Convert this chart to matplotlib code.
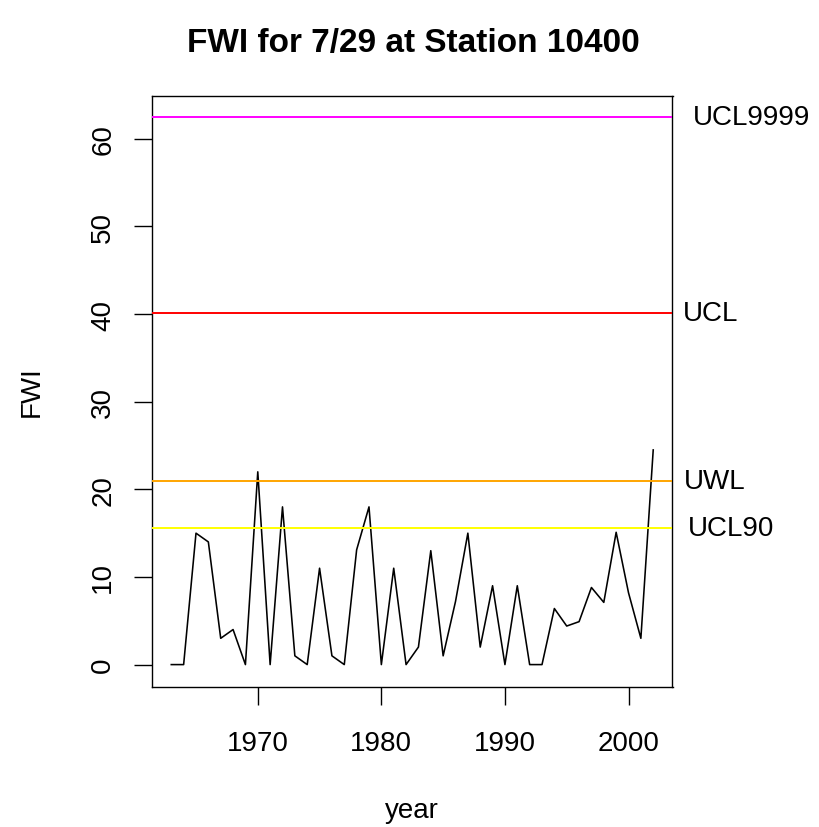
import matplotlib
matplotlib.use("Agg")
import matplotlib.pyplot as plt

plt.rcParams['font.family'] = ['Liberation Sans', 'DejaVu Sans']

years = list(range(1963, 2003))
fwi = [0, 0, 15.0, 14.0, 3.0, 4.0, 0, 22.0, 0, 18.0,
       1.0, 0, 11.0, 1.0, 0, 13.1, 18.0, 0, 11.0, 0,
       2.0, 13.0, 1.0, 7.2, 15.0, 2.0, 9.0, 0, 9.0, 0,
       0, 6.4, 4.4, 4.9, 8.8, 7.1, 15.1, 8.2, 3.0, 24.5]

limit_names = ["UCL9999", "UCL", "UWL", "UCL90"]
limit_values = [62.44, 40.1, 20.9, 15.6]
limit_colors = ["#FF00FF", "#FF0000", "#FFA500", "#FFFF00"]
limit_label_x = [693, 683, 684, 688]  # px

xticks = [1970, 1980, 1990, 2000]
yticks = [0, 10, 20, 30, 40, 50, 60]

W, H = 820, 828
fig = plt.figure(figsize=(W / 100, H / 100), dpi=100)
left, right, top, bottom = 152, 672.5, 96.5, 687.5
ax = fig.add_axes([left / W, 1 - bottom / H, (right - left) / W, (bottom - top) / H])

ax.plot(years, fwi, color="black", lw=1.15, zorder=2)
for v, c in zip(limit_values, limit_colors):
    ax.axhline(v, color=c, lw=1.4, zorder=3)

ax.set_xlim(1961.44, 2003.56)
ax.set_ylim(-2.5, 64.95)
ax.set_xticks(xticks)
ax.set_yticks(yticks)
ax.set_xticklabels([str(t) for t in xticks], fontsize=20)
ax.set_yticklabels([str(t) for t in yticks], fontsize=20, rotation=90, va='center')
ax.tick_params(axis='x', length=12.7, width=1.0, pad=18.5)
ax.tick_params(axis='y', length=12.7, width=1.0, pad=13)
for s in ax.spines.values():
    s.set_linewidth(1.0)

for name, v, lx in zip(limit_names, limit_values, limit_label_x):
    ax.annotate(name, xy=(lx / W, v), xycoords=('figure fraction', 'data'),
                ha='left', va='center', fontsize=20, annotation_clip=False)

fig.text(412 / W, 1 - 818 / H, "year", ha='center', va='baseline', fontsize=20)
fig.text(32 / W, 1 - 392 / H, "FWI", ha='center', va='center',
         rotation=90, fontsize=20)
fig.text(413 / W, 1 - 52 / H, "FWI for 7/29 at Station 10400", ha='center',
         va='baseline', fontsize=24, fontweight='bold')

fig.savefig("out.png", dpi=100)
